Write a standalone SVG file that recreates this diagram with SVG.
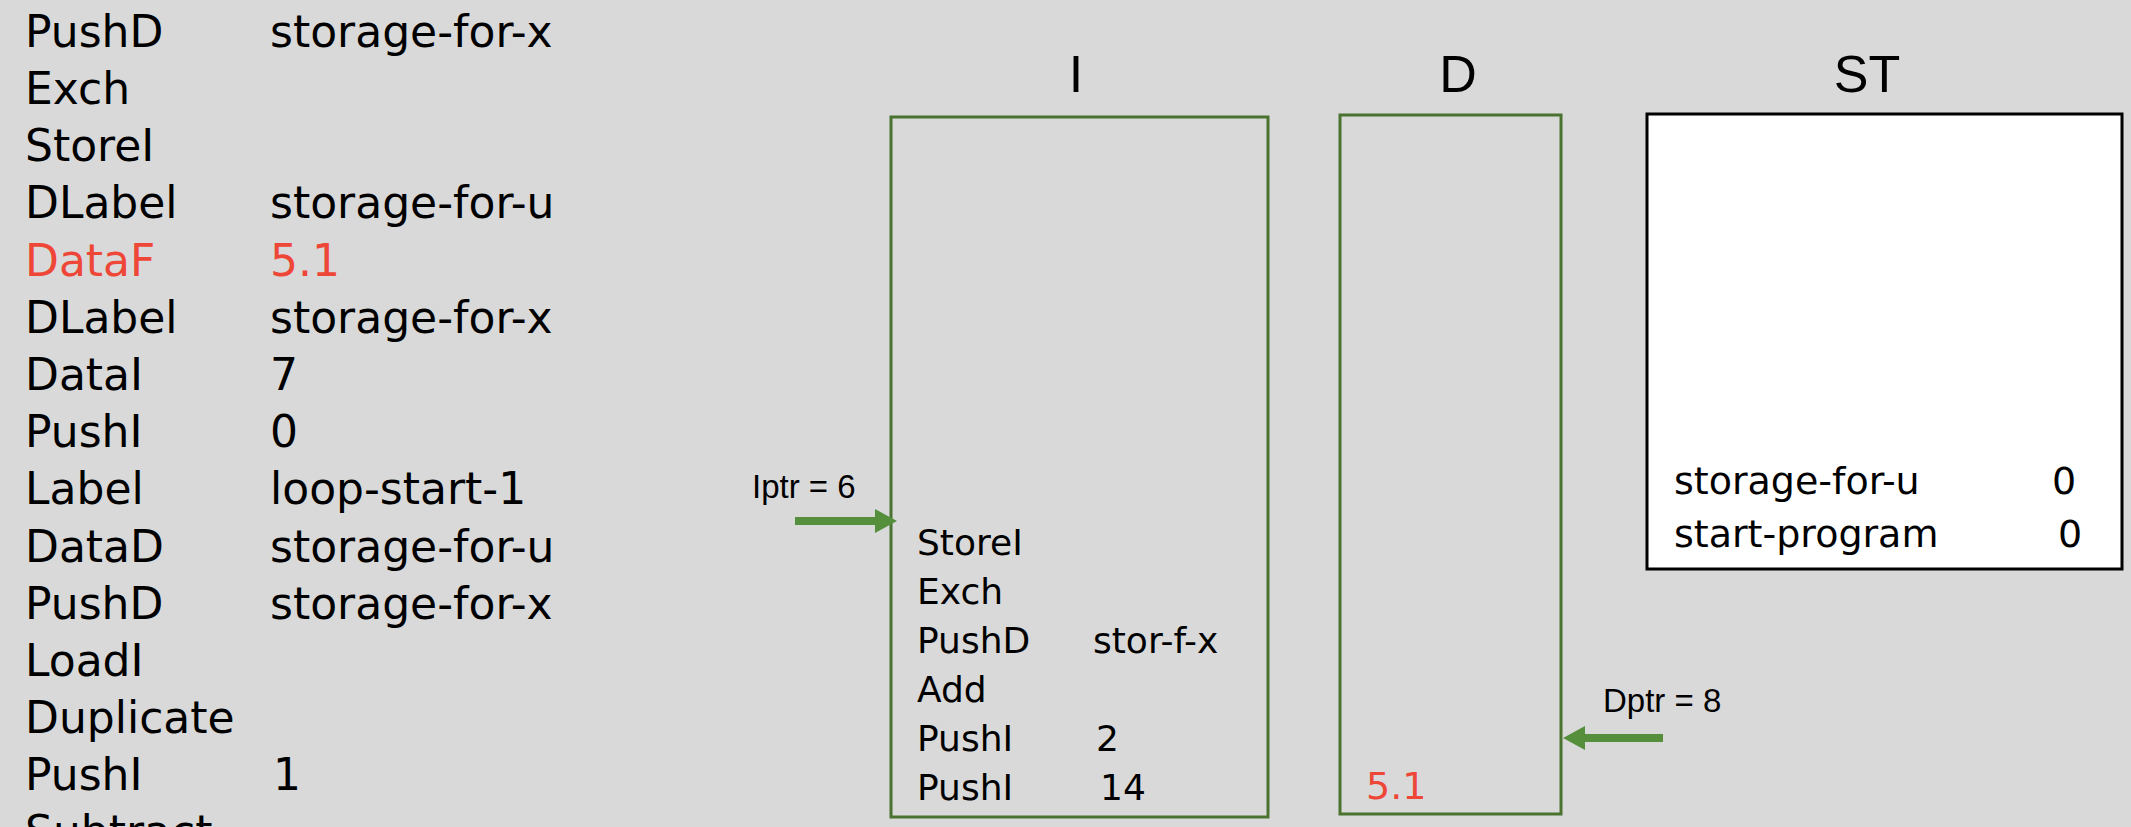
<svg xmlns="http://www.w3.org/2000/svg" width="2131" height="827" viewBox="0 0 2131 827">
<style>
  .code { font-family: "DejaVu Sans", "Liberation Sans", sans-serif; font-size: 44px; fill: #000; }
  .ibox { font-family: "DejaVu Sans", "Liberation Sans", sans-serif; font-size: 36px; fill: #000; }
  .st { font-family: "DejaVu Sans", "Liberation Sans", sans-serif; font-size: 38px; fill: #000; }
  .hdr { font-family: "Liberation Sans", "Open Sans", sans-serif; font-size: 52px; fill: #000; text-anchor: middle; }
  .ptr { font-family: "Liberation Sans", "Open Sans", sans-serif; font-size: 33px; fill: #000; }
  .mem { fill: none; stroke: #4A7330; stroke-width: 3; }
  .arrow { stroke: #558F3C; stroke-width: 8; fill: none; }
  .red { fill: #EE4637; }
</style>
<defs>
  <marker id="head" markerUnits="userSpaceOnUse" markerWidth="22" markerHeight="24" viewBox="0 0 22 24" refX="0" refY="12" orient="auto">
    <path d="M0,0 L22,12 L0,24 z" fill="#558F3C"/>
  </marker>
</defs>
<rect x="0" y="0" width="2131" height="827" fill="#D9D9D9"/>

<g id="listing" class="code">
  <text x="25" y="47">PushD</text><text x="270" y="47">storage-for-x</text>
  <text x="25" y="104">Exch</text>
  <text x="25" y="161">StoreI</text>
  <text x="25" y="218">DLabel</text><text x="270" y="218">storage-for-u</text>
  <text x="25" y="276" class="red">DataF</text><text x="270" y="276" class="red">5.1</text>
  <text x="25" y="333">DLabel</text><text x="270" y="333">storage-for-x</text>
  <text x="25" y="390">DataI</text><text x="270" y="390">7</text>
  <text x="25" y="447">PushI</text><text x="270" y="447">0</text>
  <text x="25" y="504">Label</text><text x="270" y="504">loop-start-1</text>
  <text x="25" y="562">DataD</text><text x="270" y="562">storage-for-u</text>
  <text x="25" y="619">PushD</text><text x="270" y="619">storage-for-x</text>
  <text x="25" y="676">LoadI</text>
  <text x="25" y="733">Duplicate</text>
  <text x="25" y="790">PushI</text><text x="273" y="790">1</text>
  <text x="25" y="847">Subtract</text>
</g>

<g id="mem-I">
  <text class="hdr" x="1076" y="92">I</text>
  <rect class="mem" x="891" y="117" width="377" height="700" stroke-width="3.5"/>
  <g class="ibox">
    <text x="917" y="555">StoreI</text>
    <text x="917" y="604">Exch</text>
    <text x="917" y="653">PushD</text><text x="1093" y="653">stor-f-x</text>
    <text x="917" y="702">Add</text>
    <text x="917" y="751">PushI</text><text x="1096" y="751">2</text>
    <text x="917" y="800">PushI</text><text x="1100" y="800">14</text>
  </g>
</g>

<g id="mem-D">
  <text class="hdr" x="1458" y="92">D</text>
  <rect class="mem" x="1340" y="115" width="221" height="699" stroke-width="2.5"/>
  <text x="1366" y="799" font-family="DejaVu Sans, Liberation Sans, sans-serif" font-size="38" fill="#EE4637">5.1</text>
</g>

<g id="mem-ST">
  <text class="hdr" x="1867" y="92">ST</text>
  <rect x="1647" y="114" width="475" height="455" fill="#FFFFFF" stroke="#000" stroke-width="3"/>
  <text class="st" x="1674" y="494">storage-for-u</text><text class="st" x="2052" y="494">0</text>
  <text class="st" x="1674" y="547">start-program</text><text class="st" x="2058" y="547">0</text>
</g>

<g id="iptr">
  <text class="ptr" x="752" y="498">Iptr = 6</text>
</g>
<g id="dptr">
  <text class="ptr" x="1603" y="712">Dptr = 8</text>
</g>

<g id="connectors">
  <line class="arrow" x1="795" y1="521" x2="875" y2="521" marker-end="url(#head)"/>
  <line class="arrow" x1="1663" y1="738" x2="1585" y2="738" marker-end="url(#head)"/>
</g>
</svg>
